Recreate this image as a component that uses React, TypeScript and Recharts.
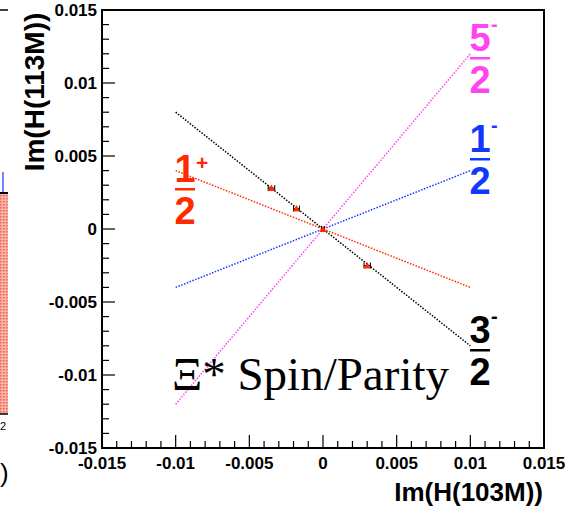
import React from 'react';
import { ComposedChart, Line, Scatter, XAxis, YAxis, ReferenceArea, ErrorBar } from 'recharts';

// axis ticks
const majorTicks = [-0.015, -0.01, -0.005, 0, 0.005, 0.01, 0.015];
const majorLabels = ['-0.015', '-0.01', '-0.005', '0', '0.005', '0.01', '0.015'];
const allTicks = Array.from({ length: 31 }, (_, i) => (i - 15) / 1000);

// spin/parity hypothesis lines: x ends and y values at those ends
const lineX = [-0.01, 0.01];
const threeHalfMinus = [0.008, -0.008];
const oneHalfPlus = [0.004, -0.004];
const oneHalfMinus = [-0.004, 0.004];
const fiveHalfMinus = [-0.012, 0.012];

// measured points
const measX = [-0.0035, -0.0018, 0, 0.003];
const measY = [0.0028, 0.0014, 0, -0.0025];
const measErr = [0.00022, 0.0002, 0.0001, 0.00022];

const RED = '#ff2a00';
const BLUE = '#1238ff';
const MAGENTA = '#ff44f0';
const SANS = "'Liberation Sans', Arial, sans-serif";

const toLine = (ys: number[]) => lineX.map((x, i) => ({ x, y: ys[i] }));
const points = measX.map((x, i) => ({ x, y: measY[i], ex: measErr[i] }));

const labelOf = (v: number) => {
  const i = majorTicks.findIndex((t) => Math.abs(t - v) < 1e-9);
  return i >= 0 ? majorLabels[i] : null;
};

// plot frame edges in pixels (axis positions)
const PLOT_LEFT = 102;
const PLOT_BOTTOM = 448;

const renderYTick = (props: any) => {
  const { y, payload } = props;
  const x = PLOT_LEFT;
  const lab = labelOf(payload.value);
  return (
    <g key={`y-${payload.value}`}>
      <line x1={x} y1={y} x2={x + (lab ? 13 : 7)} y2={y} stroke="#000" strokeWidth={1.2} />
      {lab && (
        <text x={x - 5} y={y + 6} textAnchor="end" fontFamily={SANS} fontWeight="bold" fontSize={17} fill="#000">
          {lab}
        </text>
      )}
    </g>
  );
};

const renderXTick = (props: any) => {
  const { x, payload } = props;
  const y = PLOT_BOTTOM;
  const lab = labelOf(payload.value);
  return (
    <g key={`x-${payload.value}`}>
      <line x1={x} y1={y} x2={x} y2={y - (lab ? 13 : 7)} stroke="#000" strokeWidth={1.2} />
      {lab && (
        <text x={x} y={y + 21} textAnchor="middle" fontFamily={SANS} fontWeight="bold" fontSize={17} fill="#000">
          {lab}
        </text>
      )}
    </g>
  );
};

const Marker = (props: any) => {
  const { cx, cy } = props;
  return <path d={`M${cx - 3.5},${cy + 3} L${cx + 3.5},${cy + 3} L${cx},${cy - 3.5} Z`} fill={RED} />;
};

const Frac = ({ cx, barY, num, sign, color }: any) => (
  <g fontFamily={SANS} fontWeight="bold" fill={color}>
    <text x={cx} y={barY - 7} textAnchor="middle" fontSize={38}>{num}</text>
    {sign === '+' ? (
      <text x={cx + 11} y={barY - 19} fontSize={21}>+</text>
    ) : (
      <text x={cx + 11} y={barY - 27} fontSize={20}>-</text>
    )}
    <rect x={cx - 10} y={barY - 1} width={20} height={2.5} />
    <text x={cx} y={barY + 35} textAnchor="middle" fontSize={38}>2</text>
  </g>
);

export default function App() {
  return (
    <div style={{ position: 'absolute', left: 0, top: 0, width: 577, height: 514, background: '#fff' }}>
      <ComposedChart width={577} height={514} margin={{ top: 10, right: 33, bottom: 26, left: 42 }}>
        <XAxis
          type="number"
          dataKey="x"
          domain={[-0.015, 0.015]}
          ticks={allTicks}
          interval={0}
          allowDataOverflow
          height={40}
          axisLine={false}
          tickLine={false}
          tick={renderXTick}
        />
        <YAxis
          type="number"
          dataKey="y"
          domain={[-0.015, 0.015]}
          ticks={allTicks}
          interval={0}
          allowDataOverflow
          width={60}
          axisLine={false}
          tickLine={false}
          tick={renderYTick}
        />
        <ReferenceArea x1={-0.015} x2={0.015} y1={-0.015} y2={0.015} fill="none" fillOpacity={0} stroke="#000" strokeWidth={2} ifOverflow="visible" />
        <Line data={toLine(fiveHalfMinus)} dataKey="y" stroke={MAGENTA} strokeWidth={1.5} strokeDasharray="1.5 1.5" dot={false} isAnimationActive={false} />
        <Line data={toLine(oneHalfMinus)} dataKey="y" stroke={BLUE} strokeWidth={1.5} strokeDasharray="1.5 1.5" dot={false} isAnimationActive={false} />
        <Line data={toLine(oneHalfPlus)} dataKey="y" stroke={RED} strokeWidth={1.5} strokeDasharray="1.5 1.5" dot={false} isAnimationActive={false} />
        <Line data={toLine(threeHalfMinus)} dataKey="y" stroke="#000" strokeWidth={1.5} strokeDasharray="1.5 1.5" dot={false} isAnimationActive={false} />
        <Scatter data={points} dataKey="y" shape={<Marker />} isAnimationActive={false}>
          <ErrorBar dataKey="ex" direction="x" width={3} stroke="#000" strokeWidth={1} />
        </Scatter>
      </ComposedChart>

      <svg width={577} height={514} style={{ position: 'absolute', left: 0, top: 0, pointerEvents: 'none' }}>
        {/* sliver of the neighbouring panel */}
        <defs>
          <pattern id="hatch" width="3" height="3" patternUnits="userSpaceOnUse">
            <rect width="3" height="3" fill="#f8b4a8" />
            <rect width="1.5" height="1.5" fill="#f0604a" />
          </pattern>
        </defs>
        <line x1={0} y1={10} x2={8} y2={10} stroke="#000" strokeWidth={1.5} />
        <rect x={0} y={193} width={8} height={221} fill="url(#hatch)" />
        <line x1={0} y1={414} x2={8} y2={414} stroke="#000" strokeWidth={1.5} />
        <line x1={3} y1={172} x2={3} y2={193} stroke={BLUE} strokeWidth={1.2} />
        <line x1={0} y1={193} x2={8} y2={193} stroke="#000" strokeWidth={2} />
        <text x={0} y={430} fontFamily={SANS} fontSize={11} fill="#000">2</text>
        <text x={0} y={482} fontFamily={SANS} fontSize={26} fill="#000">)</text>

        <text
          transform="translate(44,92) rotate(-90)"
          textAnchor="middle"
          fontFamily={SANS}
          fontWeight="bold"
          fontSize={28}
          fill="#000"
        >
          Im(H(113M))
        </text>
        <text x={543} y={501} textAnchor="end" fontFamily={SANS} fontWeight="bold" fontSize={26} fill="#000">
          Im(H(103M))
        </text>

        <Frac cx={480} barY={58} num="5" sign="-" color={MAGENTA} />
        <Frac cx={480} barY={159} num="1" sign="-" color={BLUE} />
        <Frac cx={480} barY={350} num="3" sign="-" color="#000" />
        <Frac cx={185} barY={189} num="1" sign="+" color={RED} />

        <text x={172} y={390} fontFamily="'Liberation Serif', 'Times New Roman', serif" fontSize={47} fill="#000">
          Ξ* Spin/Parity
        </text>
      </svg>
    </div>
  );
}
